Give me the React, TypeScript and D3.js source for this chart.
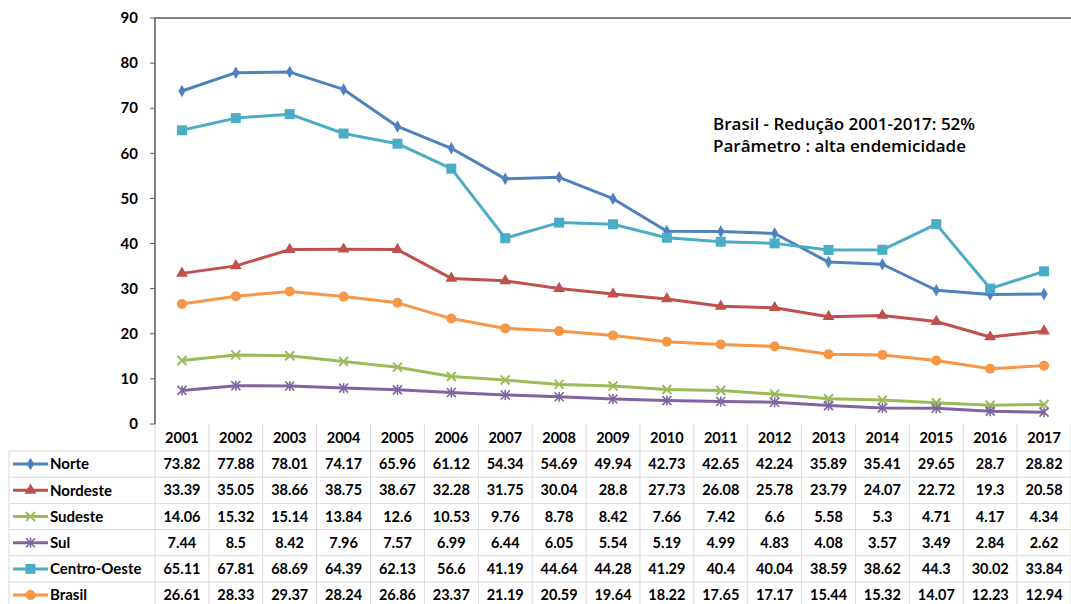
import React from "react";
import * as d3 from "d3";

const years = ["2001","2002","2003","2004","2005","2006","2007","2008","2009","2010","2011","2012","2013","2014","2015","2016","2017"];
const norte = [73.82,77.88,78.01,74.17,65.96,61.12,54.34,54.69,49.94,42.73,42.65,42.24,35.89,35.41,29.65,28.7,28.82];
const nordeste = [33.39,35.05,38.66,38.75,38.67,32.28,31.75,30.04,28.8,27.73,26.08,25.78,23.79,24.07,22.72,19.3,20.58];
const sudeste = [14.06,15.32,15.14,13.84,12.6,10.53,9.76,8.78,8.42,7.66,7.42,6.6,5.58,5.3,4.71,4.17,4.34];
const sul = [7.44,8.5,8.42,7.96,7.57,6.99,6.44,6.05,5.54,5.19,4.99,4.83,4.08,3.57,3.49,2.84,2.62];
const centroOeste = [65.11,67.81,68.69,64.39,62.13,56.6,41.19,44.64,44.28,41.29,40.4,40.04,38.59,38.62,44.3,30.02,33.84];
const brasil = [26.61,28.33,29.37,28.24,26.86,23.37,21.19,20.59,19.64,18.22,17.65,17.17,15.44,15.32,14.07,12.23,12.94];
const yTicks = [0,10,20,30,40,50,60,70,80,90];
const labels = ["Brasil - Redução 2001-2017: 52%", "Parâmetro : alta endemicidade"];

const series = [
  { name: "Norte", values: norte, color: "#4F81BD", marker: "diamond" },
  { name: "Nordeste", values: nordeste, color: "#C0504D", marker: "triangle" },
  { name: "Sudeste", values: sudeste, color: "#9BBB59", marker: "x" },
  { name: "Sul", values: sul, color: "#8064A2", marker: "star" },
  { name: "Centro-Oeste", values: centroOeste, color: "#4BACC6", marker: "square" },
  { name: "Brasil", values: brasil, color: "#F79646", marker: "circle" },
];

const FONT = "Lato, 'Open Sans', sans-serif";

function Marker({ type, x, y, color }: { type: string; x: number; y: number; color: string }) {
  switch (type) {
    case "diamond":
      return <path d={d3.symbol(d3.symbolDiamond, 45)()!} transform={`translate(${x},${y})`} fill={color} />;
    case "triangle":
      return <path d={d3.symbol(d3.symbolTriangle, 60)()!} transform={`translate(${x},${y})`} fill={color} />;
    case "square":
      return <rect x={x - 5} y={y - 5} width={10} height={10} fill={color} />;
    case "circle":
      return <circle cx={x} cy={y} r={5} fill={color} />;
    case "x":
      return (
        <g stroke={color} strokeWidth={2}>
          <line x1={x - 4.5} y1={y - 4.5} x2={x + 4.5} y2={y + 4.5} />
          <line x1={x - 4.5} y1={y + 4.5} x2={x + 4.5} y2={y - 4.5} />
        </g>
      );
    case "star":
      return (
        <g stroke={color} strokeWidth={1.6}>
          <line x1={x - 4.5} y1={y - 4.5} x2={x + 4.5} y2={y + 4.5} />
          <line x1={x - 4.5} y1={y + 4.5} x2={x + 4.5} y2={y - 4.5} />
          <line x1={x} y1={y - 5} x2={x} y2={y + 5} />
        </g>
      );
  }
  return null;
}

export default function App() {
  const W = 1071, H = 604;
  const left = 155, right = 1071, top = 18, bottom = 424;
  const x = d3.scaleBand<string>().domain(years).range([left, right]);
  const y = d3.scaleLinear().domain([0, 90]).range([bottom, top]);
  const line = d3.line<number>().x((_, i) => x(years[i])! + x.bandwidth() / 2).y((d) => y(d));

  const headerTop = bottom;
  const rowH = 26.2;
  const rowsTop = 451;
  const tableLeft = 9;

  return (
    <svg width={W} height={H} style={{ position: "absolute", left: 0, top: 0, background: "#fff" }}>
      {/* table grid */}
      <g stroke="#D9D9D9" strokeWidth={1}>
        {years.map((yr, i) => (
          <line key={"v" + i} x1={x(yr)! + x.bandwidth()} x2={x(yr)! + x.bandwidth()} y1={headerTop} y2={H} />
        ))}
        <line x1={left} x2={left} y1={headerTop} y2={H} />
        <line x1={tableLeft} x2={tableLeft} y1={rowsTop} y2={H} />
        {series.map((_, i) => (
          <line key={"h" + i} x1={tableLeft} x2={right} y1={rowsTop + i * rowH} y2={rowsTop + i * rowH} />
        ))}
        <line x1={tableLeft} x2={right} y1={rowsTop + 6 * rowH} y2={rowsTop + 6 * rowH} />
      </g>
      {/* axes */}
      <line x1={left} x2={left} y1={top} y2={bottom} stroke="#595959" strokeWidth={1.5} />
      <line x1={left} x2={right} y1={top} y2={top} stroke="#595959" strokeWidth={1.5} />
      {yTicks.map((t) => (
        <g key={t}>
          <line x1={left - 5} x2={left} y1={y(t)} y2={y(t)} stroke="#595959" />
          <text x={138} y={y(t)} dy="0.35em" textAnchor="end" fontFamily={FONT} fontWeight={700} fontSize={15} fill="#000">
            {t}
          </text>
        </g>
      ))}
      {/* lines */}
      {series.map((s) => (
        <g key={s.name}>
          <path d={line(s.values)!} fill="none" stroke={s.color} strokeWidth={3} strokeLinejoin="round" />
          {s.values.map((v, i) => (
            <Marker key={i} type={s.marker} x={x(years[i])! + x.bandwidth() / 2} y={y(v)} color={s.color} />
          ))}
        </g>
      ))}
      {/* annotation */}
      {labels.map((l, i) => (
        <text key={l} x={713} y={130 + i * 22} fontFamily="'Open Sans', sans-serif" fontWeight={600} fontSize={17} fill="#000">
          {l}
        </text>
      ))}
      {/* table header */}
      {years.map((yr) => (
        <text key={yr} x={x(yr)! + x.bandwidth() / 2} y={headerTop + 13.5} dy="0.35em" textAnchor="middle" fontFamily={FONT} fontWeight={700} fontSize={14.5} fill="#000">
          {yr}
        </text>
      ))}
      {/* table rows */}
      {series.map((s, r) => {
        const cy = rowsTop + r * rowH + rowH / 2;
        return (
          <g key={s.name}>
            <line x1={13} x2={48} y1={cy} y2={cy} stroke={s.color} strokeWidth={3} />
            <Marker type={s.marker} x={30.5} y={cy} color={s.color} />
            <text x={50} y={cy} dy="0.35em" fontFamily={FONT} fontWeight={700} fontSize={15} fill="#000">
              {s.name}
            </text>
            {s.values.map((v, i) => (
              <text key={i} x={x(years[i])! + x.bandwidth() / 2} y={cy} dy="0.35em" textAnchor="middle" fontFamily={FONT} fontWeight={700} fontSize={14.5} fill="#000">
                {String(v)}
              </text>
            ))}
          </g>
        );
      })}
    </svg>
  );
}
